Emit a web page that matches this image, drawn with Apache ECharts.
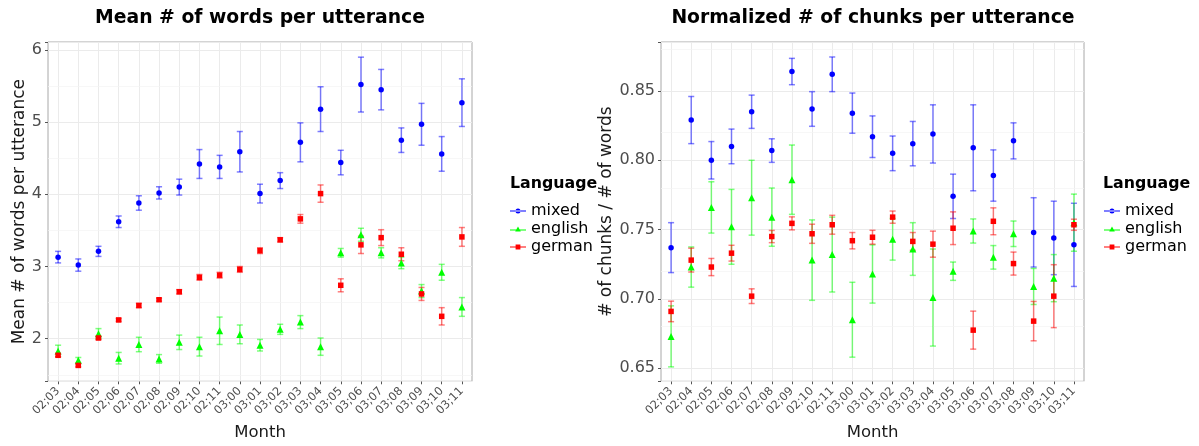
<!DOCTYPE html>
<html lang="en">
<head>
    <meta charset="UTF-8">
    <title>Words and chunks per utterance</title>
    <script src="https://cdn.jsdelivr.net/npm/echarts@6/dist/echarts.min.js"></script>
</head>
<body style="margin:0;background:#fff">
    <div id="main" style="width: 1199px;height: 446px"></div>
    <script type="application/javascript">
        // categories (age in year;month)
        var months = ['02;03','02;04','02;05','02;06','02;07','02;08','02;09','02;10','02;11',
                      '03;00','03;01','03;02','03;03','03;04','03;05','03;06','03;07','03;08','03;09','03;10','03;11'];

        // left panel: mean # of words per utterance (mean, error half-width)
        var wordsMixed      = [3.13,3.02,3.21,3.62,3.88,4.02,4.10,4.42,4.38,4.59,4.01,4.19,4.72,5.18,4.44,5.52,5.45,4.75,4.97,4.56,5.27];
        var wordsMixedErr   = [0.08,0.085,0.07,0.08,0.10,0.085,0.11,0.20,0.16,0.28,0.13,0.11,0.27,0.31,0.17,0.38,0.28,0.17,0.29,0.24,0.33];
        var wordsEnglish    = [1.83,1.70,2.07,1.73,1.92,1.72,1.95,1.89,2.11,2.06,1.91,2.13,2.23,1.89,3.19,3.44,3.19,3.05,2.66,2.92,2.44];
        var wordsEnglishErr = [0.08,0.04,0.07,0.08,0.10,0.06,0.10,0.13,0.19,0.13,0.08,0.07,0.09,0.12,0.06,0.09,0.07,0.08,0.09,0.11,0.13];
        var wordsGerman     = [1.77,1.63,2.01,2.26,2.46,2.54,2.65,2.85,2.88,2.96,3.22,3.37,3.66,4.01,2.74,3.30,3.40,3.17,2.62,2.31,3.41];
        var wordsGermanErr  = [0.02,0.02,0.02,0.02,0.03,0.02,0.03,0.04,0.04,0.04,0.04,0.03,0.06,0.12,0.09,0.12,0.11,0.09,0.09,0.12,0.13];

        // right panel: normalized # of chunks per utterance
        var chunksMixed      = [0.737,0.829,0.800,0.810,0.835,0.807,0.864,0.837,0.862,0.834,0.817,0.805,0.812,0.819,0.774,0.809,0.789,0.814,0.748,0.744,0.739];
        var chunksMixedErr   = [0.018,0.017,0.0135,0.0125,0.012,0.0085,0.0095,0.0125,0.0125,0.0145,0.015,0.0125,0.016,0.021,0.016,0.031,0.0185,0.013,0.025,0.0265,0.030];
        var chunksEnglish    = [0.673,0.723,0.766,0.752,0.773,0.759,0.786,0.728,0.732,0.685,0.718,0.743,0.736,0.701,0.720,0.749,0.730,0.747,0.709,0.715,0.755];
        var chunksEnglishErr = [0.022,0.0145,0.0185,0.027,0.027,0.021,0.025,0.029,0.027,0.027,0.021,0.015,0.019,0.035,0.0066,0.0087,0.0085,0.0092,0.013,0.017,0.0206];
        var chunksGerman     = [0.691,0.728,0.723,0.733,0.702,0.745,0.7545,0.747,0.7535,0.742,0.7445,0.759,0.7415,0.7395,0.751,0.6775,0.756,0.7255,0.684,0.702,0.7535];
        var chunksGermanErr  = [0.0074,0.0086,0.0062,0.0057,0.0053,0.0044,0.0047,0.0069,0.0068,0.0059,0.005,0.0044,0.0064,0.0094,0.0118,0.0137,0.0097,0.0083,0.0142,0.0227,0.004];

        // axis ranges and minor grid lines
        var wordsRange  = [1.41, 6.11];
        var chunksRange = [0.6406, 0.8853];
        var wordsMinor  = [1.5, 2.5, 3.5, 4.5, 5.5];
        var chunksMinor = [0.675, 0.725, 0.775, 0.825, 0.875];

        var languages = ['mixed', 'english', 'german'];
        var colors = ['#0000FF', '#00FF00', '#FF0000'];
        var shapes = ['circle', 'triangle', 'rect'];
        var icons = [
            'path://M0,3.5h16v1h-16z M5.5,4a2.5,2.5 0 1,0 5,0a2.5,2.5 0 1,0 -5,0z M0,1.5h0.01v5h-0.01z',
            'path://M0,4.5h16v1h-16z M8,1.5L10.8,6.5H5.2z M0,1.5h0.01v5h-0.01z',
            'path://M0,3.5h16v1h-16z M5.6,1.6h4.8v4.8h-4.8z M0,1.5h0.01v5h-0.01z'
        ];
        var FONT = '"DejaVu Sans", Verdana, sans-serif';

        var myChart = echarts.init(document.getElementById("main"));

        function renderErr(params, api) {
            var x = api.value(0), m = api.value(1), e = api.value(2);
            var top = api.coord([x, m + e]);
            var bot = api.coord([x, m - e]);
            var w = api.size([1, 0])[0] * 0.15;
            var style = {stroke: api.visual('color'), lineWidth: 1.5, opacity: 0.5};
            return {
                type: 'group',
                children: [
                    {type: 'line', shape: {x1: top[0], y1: top[1], x2: bot[0], y2: bot[1]}, style: style},
                    {type: 'line', shape: {x1: top[0] - w, y1: top[1], x2: top[0] + w, y2: top[1]}, style: style},
                    {type: 'line', shape: {x1: bot[0] - w, y1: bot[1], x2: bot[0] + w, y2: bot[1]}, style: style}
                ]
            };
        }

        function panelSeries(axisIdx, means, errs, minor) {
            var out = [];
            // grid lines: vertical at each month, minor horizontal between major ticks
            var grid = months.map(function (m) {
                return {xAxis: m, lineStyle: {color: '#EBEBEB', width: 1, type: 'solid'}};
            }).concat(minor.map(function (v) {
                return {yAxis: v, lineStyle: {color: '#F3F3F3', width: 0.7, type: 'solid'}};
            }));
            out.push({
                type: 'line', data: [], xAxisIndex: axisIdx, yAxisIndex: axisIdx, silent: true, z: 1,
                markLine: {silent: true, z: 1, symbol: 'none', label: {show: false}, data: grid}
            });
            for (var k = 0; k < 3; k++) {
                out.push({
                    name: languages[k] + ' err', type: 'custom', xAxisIndex: axisIdx, yAxisIndex: axisIdx,
                    itemStyle: {color: colors[k]}, renderItem: renderErr, z: 3,
                    encode: {x: 0, y: 1},
                    data: means[k].map(function (v, i) { return [i, v, errs[k][i]]; })
                });
            }
            for (var k2 = 0; k2 < 3; k2++) {
                out.push({
                    name: languages[k2], type: 'scatter', xAxisIndex: axisIdx, yAxisIndex: axisIdx,
                    symbol: shapes[k2], symbolSize: k2 === 1 ? 7 : 5.5, z: 4,
                    itemStyle: {color: colors[k2], opacity: 1},
                    data: means[k2].map(function (v, i) { return [i, v]; })
                });
            }
            return out;
        }

        function xAxisOpt(gridIdx) {
            return {
                type: 'category', gridIndex: gridIdx, data: months, boundaryGap: true,
                name: 'Month', nameLocation: 'middle', nameGap: 39,
                nameTextStyle: {fontFamily: FONT, fontSize: 16.5, color: '#1A1A1A'},
                axisLine: {show: false},
                axisTick: {show: true, alignWithLabel: true, length: 3, lineStyle: {color: '#555'}},
                axisLabel: {rotate: 45, fontFamily: FONT, fontSize: 11.5, color: '#4D4D4D', margin: 8, interval: 0},
                splitLine: {show: false}
            };
        }

        function yAxisOpt(gridIdx, range, name, gap, fmt) {
            return {
                type: 'value', gridIndex: gridIdx, min: range[0], max: range[1], splitNumber: 5,
                name: name, nameLocation: 'middle', nameGap: gap,
                nameTextStyle: {fontFamily: FONT, fontSize: 17, color: '#1A1A1A'},
                axisLine: {show: false},
                axisTick: {show: true, length: 3, lineStyle: {color: '#555'}},
                axisLabel: {fontFamily: FONT, fontSize: 16, color: '#4D4D4D', margin: 6, formatter: fmt},
                splitLine: {show: true, lineStyle: {color: '#EBEBEB', width: 1}}
            };
        }

        function legendOpt(left) {
            return {
                orient: 'vertical', left: left, top: 202, padding: 0, itemWidth: 16, itemHeight: 5, itemGap: 0,
                selectedMode: false,
                textStyle: {fontFamily: FONT, fontSize: 16, color: '#000', lineHeight: 18},
                data: languages.map(function (n, i) { return {name: n, icon: icons[i]}; })
            };
        }

        var titleStyle = {fontFamily: FONT, fontSize: 18.8, fontWeight: 'bold', color: '#000'};
        var legendTitleStyle = {fontFamily: FONT, fontSize: 15.8, fontWeight: 'bold', color: '#000'};

        var option = {
            animation: false,
            backgroundColor: '#fff',
            title: [
                {text: 'Mean # of words per utterance', left: 260, top: 9, padding: 0, textAlign: 'center', textStyle: titleStyle},
                {text: 'Normalized # of chunks per utterance', left: 873, top: 9, padding: 0, textAlign: 'center', textStyle: titleStyle},
                {text: 'Language', left: 510, top: 176, padding: 0, textStyle: legendTitleStyle},
                {text: 'Language', left: 1103, top: 176, padding: 0, textStyle: legendTitleStyle}
            ],
            legend: [legendOpt(510), legendOpt(1104)],
            grid: [
                {left: 48, top: 42, width: 424, height: 347, show: true, borderColor: '#A8A8A8', borderWidth: 1, backgroundColor: '#fff'},
                {left: 661, top: 42, width: 423, height: 346, show: true, borderColor: '#A8A8A8', borderWidth: 1, backgroundColor: '#fff'}
            ],
            xAxis: [xAxisOpt(0), xAxisOpt(1)],
            yAxis: [
                yAxisOpt(0, wordsRange, 'Mean # of words per utterance', 20, function (v) {
                    return Math.abs(v - Math.round(v)) < 1e-9 ? String(Math.round(v)) : '';
                }),
                yAxisOpt(1, chunksRange, '# of chunks / # of words', 46, function (v) {
                    return Math.abs(v * 20 - Math.round(v * 20)) < 1e-7 ? v.toFixed(2) : '';
                })
            ],
            series: panelSeries(0, [wordsMixed, wordsEnglish, wordsGerman], [wordsMixedErr, wordsEnglishErr, wordsGermanErr], wordsMinor)
                .concat(panelSeries(1, [chunksMixed, chunksEnglish, chunksGerman], [chunksMixedErr, chunksEnglishErr, chunksGermanErr], chunksMinor))
        };

        if (option && typeof option === "object") {
            myChart.setOption(option, true);
        }
    </script>
</body>
</html>
